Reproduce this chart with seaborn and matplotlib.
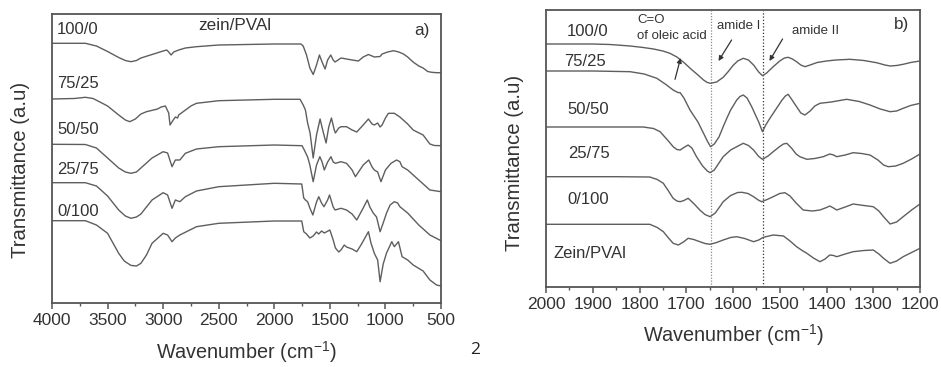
import numpy as np
import pandas as pd
import matplotlib
matplotlib.use("Agg")
import matplotlib.pyplot as plt
from matplotlib.ticker import MultipleLocator
import seaborn as sns

# ---------------- data: panel a) (full range) ----------------
a_labels = ["100/0", "75/25", "50/50", "25/75", "0/100"]

a_wn_100_0 = [4000, 3700, 3600, 3500, 3400, 3340, 3290, 3240, 3200, 3100, 3000, 2968, 2950, 2929, 2905, 2860,
              2800, 2700, 2500, 2000, 1760, 1740, 1710, 1680, 1650, 1620, 1594, 1570, 1543, 1520, 1492, 1470,
              1453, 1400, 1350, 1300, 1243, 1200, 1153, 1120, 1100, 1048, 1030, 980, 928, 880, 838, 800, 751,
              700, 661, 620, 584, 540, 500]
a_t_100_0 = [259.7, 259.7, 257, 251.5, 245.5, 242.5, 241.3, 242.5, 245, 248.5, 252, 253, 251, 248, 251, 253,
             255, 256.3, 258, 259, 259, 257, 248, 235, 228.5, 238, 248, 241, 234, 243, 248, 243,
             241, 245, 244, 243, 242, 246, 248.5, 247, 246, 246.5, 249, 251, 252.3, 251, 249, 246, 241,
             237, 235, 231.5, 230.7, 230.3, 230.3]

a_wn_75_25 = [4000, 3800, 3700, 3630, 3500, 3400, 3340, 3300, 3250, 3200, 3150, 3050, 3018, 2980, 2950, 2938,
              2915, 2890, 2870, 2860, 2820, 2750, 2700, 2500, 2000, 1768, 1740, 1720, 1700, 1678, 1650, 1620,
              1588, 1560, 1534, 1510, 1486, 1460, 1450, 1420, 1400, 1350, 1300, 1258, 1200, 1153, 1120, 1100,
              1070, 1048, 1030, 1000, 973, 920, 870, 800, 750, 661, 600, 560, 500]
a_t_75_25 = [204, 204.5, 205.7, 204.5, 197, 188, 183, 181.3, 184, 189, 191.3, 194, 196, 197, 190, 178,
             182, 186, 185, 188, 191.3, 197, 199.7, 202.3, 203.7, 203.7, 198, 193, 180, 170, 145, 168,
             184, 171, 160, 176, 185, 173, 170, 175, 176.3, 176.3, 173, 171, 178, 184, 179, 178,
             180, 176, 178, 185, 189.7, 189.7, 186, 179, 173, 168, 159, 157.5, 157.3]

a_wn_50_50 = [4000, 3700, 3600, 3500, 3400, 3340, 3290, 3240, 3200, 3100, 3000, 2960, 2920, 2890, 2850, 2800,
              2700, 2500, 2000, 1750, 1730, 1700, 1680, 1650, 1620, 1590, 1570, 1550, 1520, 1490, 1470, 1450,
              1400, 1350, 1300, 1270, 1200, 1150, 1120, 1100, 1070, 1040, 1000, 950, 900, 870, 850, 800, 700,
              600, 500]
a_t_50_50 = [158.7, 158.5, 155, 145, 135, 131, 129.7, 131, 135, 145, 151.3, 150, 136.3, 143, 143, 149.7,
             154, 156.3, 158, 157.3, 153, 146, 138, 121.3, 138, 146.3, 141, 133, 141, 146.3, 141, 139.7,
             141.3, 139.7, 133, 126.3, 138, 143, 136, 133, 131, 121.3, 133, 139.7, 143, 141.3, 136.3, 133, 123,
             113, 111.3]

a_wn_25_75 = [4000, 3700, 3600, 3500, 3400, 3340, 3290, 3240, 3200, 3100, 3000, 2960, 2920, 2890, 2850, 2800,
              2700, 2500, 2000, 1753, 1735, 1720, 1700, 1680, 1653, 1620, 1600, 1575, 1553, 1520, 1503, 1470,
              1453, 1400, 1350, 1300, 1258, 1200, 1163, 1140, 1110, 1080, 1048, 1020, 990, 958, 920, 890, 870,
              800, 700, 600, 500]
a_t_25_75 = [120.3, 120.3, 117, 107, 93, 87, 84.7, 86, 89, 103, 110.3, 108, 94.7, 103, 101.3, 106.3,
             112, 116.3, 119.7, 119, 105, 103, 101.3, 95, 88, 101, 106.3, 100, 96.3, 103, 108, 96,
             93, 94.7, 93, 89, 83, 95, 103, 96, 90, 86, 71.3, 80, 90, 98, 101.3, 100, 96.3,
             90, 78, 68, 62.3]

a_wn_0_100 = [4000, 3700, 3600, 3500, 3400, 3350, 3290, 3240, 3200, 3150, 3100, 3000, 2960, 2920, 2890, 2850,
              2700, 2500, 2000, 1753, 1735, 1710, 1680, 1650, 1620, 1600, 1575, 1550, 1500, 1470, 1450, 1420,
              1400, 1370, 1350, 1300, 1258, 1220, 1153, 1130, 1100, 1070, 1048, 1020, 990, 943, 920, 883, 850,
              800, 750, 661, 600, 540, 500]
a_t_0_100 = [82.3, 82.3, 78, 69.7, 49.7, 42, 37.6, 37, 39.7, 48, 59.7, 69.7, 68, 61.3, 65, 68,
             76.3, 79.7, 82, 82, 71.3, 69, 65, 67, 71, 69, 72, 70, 73, 63, 55, 51,
             53, 58, 56, 54, 51.3, 58, 71.3, 60, 49.7, 43, 21.3, 39, 50, 61.3, 56.3, 61.3, 46.3,
             43, 38, 32, 23, 18, 17]

# ---------------- data: panel b) (2000-1200) ----------------
b_labels = ["100/0", "75/25", "50/50", "25/75", "0/100", "Zein/PVAl"]

b_wn_100_0 = [2000, 1900, 1863, 1820, 1792, 1770, 1750, 1735, 1720, 1705, 1690, 1675, 1663, 1655, 1648, 1635,
              1621, 1610, 1600, 1590, 1578, 1567, 1556, 1545, 1537, 1528, 1514, 1500, 1490, 1482, 1473, 1464,
              1455, 1446, 1435, 1420, 1400, 1380, 1350, 1320, 1293, 1275, 1264, 1250, 1236, 1220, 1200]
b_t_100_0 = [243, 243, 242.5, 241, 239.5, 238, 236, 233.7, 230, 224.5, 218, 212, 207, 204.5, 203.7, 205,
             209.7, 215.5, 221.5, 226, 228.7, 227, 222, 215, 211.3, 214, 220.3, 226, 229, 229.7, 228, 225.3,
             222, 220.3, 222, 224.5, 226, 227, 227.7, 226.5, 224.3, 222, 221, 221.5, 222.7, 224.5, 226]

b_wn_75_25 = [2000, 1900, 1820, 1790, 1763, 1745, 1728, 1718, 1713, 1705, 1692, 1675, 1663, 1655, 1648, 1640,
              1630, 1621, 1612, 1605, 1592, 1585, 1578, 1570, 1560, 1550, 1545, 1537, 1530, 1522, 1514, 1505,
              1495, 1488, 1482, 1475, 1464, 1455, 1446, 1435, 1425, 1414, 1390, 1357, 1330, 1307, 1285, 1264,
              1250, 1236, 1220, 1200]
b_t_75_25 = [216, 216, 215.3, 213, 208.7, 203, 197, 194.5, 194.3, 189, 177, 165, 153.7, 146, 140.3, 143,
             150, 160.3, 170, 177, 187, 190.5, 192, 189, 180.3, 170, 165, 155.3, 162, 168, 173.7, 180,
             187, 191, 192.7, 188, 180.3, 174, 172, 176, 181, 183.7, 185, 187.7, 185.5, 182, 178, 175.3,
             176, 178.7, 181.5, 183.7]

b_wn_50_50 = [2000, 1850, 1792, 1770, 1756, 1740, 1728, 1720, 1713, 1705, 1696, 1688, 1678, 1665, 1655, 1649,
              1640, 1630, 1621, 1605, 1592, 1578, 1567, 1556, 1545, 1537, 1525, 1514, 1500, 1492, 1485, 1475,
              1465, 1457, 1442, 1425, 1407, 1393, 1385, 1378, 1360, 1343, 1325, 1307, 1290, 1278, 1268, 1252,
              1236, 1218, 1200]
b_t_50_50 = [160, 160, 160, 158.5, 155.3, 147, 140.3, 137.5, 137, 139.5, 142, 139, 130.3, 121, 116, 114.3,
             117, 124, 130.3, 137, 140.3, 143.7, 141.5, 137, 130.5, 127.7, 131, 135.3, 140.5, 143, 143.7, 139,
             133, 130.3, 127.7, 128.5, 130.3, 133, 132, 130.3, 132, 134.3, 133.5, 132, 127, 122, 120.3, 121,
             123.7, 128, 133]

b_wn_25_75 = [2000, 1850, 1778, 1762, 1749, 1738, 1728, 1720, 1713, 1705, 1696, 1684, 1671, 1660, 1649, 1638,
              1628, 1621, 1605, 1590, 1581, 1568, 1556, 1546, 1539, 1527, 1514, 1500, 1489, 1478, 1465, 1450,
              1430, 1414, 1400, 1393, 1385, 1378, 1360, 1343, 1320, 1300, 1288, 1278, 1264, 1250, 1236, 1218,
              1200]
b_t_25_75 = [110.3, 110.3, 110, 107.5, 103.7, 96, 88.7, 86, 85.3, 86.5, 88.7, 83.5, 77, 72.5, 70.3, 74,
             80.5, 85.3, 91.5, 94.5, 94.7, 93.5, 90.3, 87, 85.3, 87.5, 90.3, 93.5, 94.3, 91, 84, 77,
             76, 77, 79.5, 81, 79, 77, 80, 83, 81.5, 80.3, 76, 70.3, 63, 65, 70.3, 77,
             83]

b_wn_0_100 = [2000, 1850, 1778, 1762, 1749, 1738, 1728, 1717, 1706, 1696, 1684, 1671, 1660, 1649, 1635, 1621,
              1605, 1592, 1575, 1556, 1545, 1535, 1514, 1492, 1478, 1464, 1452, 1442, 1428, 1414, 1403, 1393,
              1385, 1378, 1360, 1343, 1320, 1300, 1288, 1278, 1264, 1250, 1236, 1218, 1200]
b_t_0_100 = [62.7, 62.7, 62.7, 59.5, 55.3, 49, 43.7, 42, 45, 48.7, 47.5, 45.3, 43.5, 42.7, 44.5, 47,
             49.5, 50.3, 48.5, 45.3, 47, 49.7, 52, 51, 46, 40.3, 36.5, 33.7, 29, 25.3, 28, 32,
             31.5, 30.3, 33, 35.3, 36.5, 37, 33, 28.7, 23.7, 26, 30.3, 34.5, 38.7]

# band markers (cm-1)
amide_lines = [1648, 1535]

# ---------------- style ----------------
sns.set_style("ticks")
plt.rcParams["font.family"] = ["Liberation Sans", "DejaVu Sans"]
plt.rcParams["mathtext.fontset"] = "custom"
plt.rcParams["mathtext.rm"] = "Liberation Sans"
plt.rcParams["mathtext.it"] = "Liberation Sans:italic"
plt.rcParams["mathtext.bf"] = "Liberation Sans:bold"

LINE = "#5e5e5e"
TXT = "#333333"
SPINE = "#555555"

W, H = 941, 367
fig = plt.figure(figsize=(W / 100, H / 100), dpi=100)
fig.patch.set_facecolor("white")

def rect(l, t, r, b):
    return [l / W, 1 - b / H, (r - l) / W, (b - t) / H]

axA = fig.add_axes(rect(52, 14, 441, 303))
axB = fig.add_axes(rect(546, 10, 920, 287))

def build(wns, ts, labels):
    frames = []
    for w, t, lab in zip(wns, ts, labels):
        frames.append(pd.DataFrame({"wn": w, "T": t, "sample": lab}))
    return pd.concat(frames, ignore_index=True)

dfA = build([a_wn_100_0, a_wn_75_25, a_wn_50_50, a_wn_25_75, a_wn_0_100],
            [a_t_100_0, a_t_75_25, a_t_50_50, a_t_25_75, a_t_0_100], a_labels)
dfB = build([b_wn_100_0, b_wn_75_25, b_wn_50_50, b_wn_25_75, b_wn_0_100],
            [b_t_100_0, b_t_75_25, b_t_50_50, b_t_25_75, b_t_0_100], b_labels)

for ax, df in ((axA, dfA), (axB, dfB)):
    sns.lineplot(data=df, x="wn", y="T", units="sample", estimator=None, sort=False,
                 color=LINE, lw=1.0, ax=ax, legend=False)

axA.set_xlim(4000, 500)
axA.set_ylim(0, 289)
axB.set_xlim(2000, 1200)
axB.set_ylim(0, 277)

axA.xaxis.set_major_locator(MultipleLocator(500))
axA.xaxis.set_minor_locator(MultipleLocator(250))
axB.xaxis.set_major_locator(MultipleLocator(100))
axB.xaxis.set_minor_locator(MultipleLocator(50))

for ax in (axA, axB):
    ax.set_yticks([])
    for s in ax.spines.values():
        s.set_visible(True)
        s.set_color(SPINE)
        s.set_linewidth(1.3)
    ax.tick_params(axis="x", which="major", direction="out", length=4, width=1.1,
                   color=SPINE, labelsize=12.5, labelcolor=TXT, pad=3)
    ax.tick_params(axis="x", which="minor", direction="out", length=2.5, width=1.0, color=SPINE)
    ax.set_xlabel("Wavenumber (cm$^{-1}$)", fontsize=14.3, color=TXT)
    ax.set_ylabel("Transmittance (a.u)", fontsize=14.7, color=TXT)
    ax.xaxis.label.set_va("center")
    ax.yaxis.label.set_va("center")

axA.xaxis.set_label_coords(0.5, -(352 - 303) / 289)
axA.yaxis.set_label_coords((20 - 52) / 389, (303 - 170) / 289)
axB.xaxis.set_label_coords(0.5, -(335 - 287) / 277)
axB.yaxis.set_label_coords((515 - 546) / 374, (287 - 163) / 277)

# panel a text
a_lab_y = [273, 220, 173, 133, 92]
for lab, y in zip(a_labels, a_lab_y):
    axA.text(3955, y, lab, fontsize=12, color=TXT, ha="left", va="center")
axA.text(2353, 278, "zein/PVAl", fontsize=12.3, color=TXT, ha="center", va="center")
axA.text(598, 273, "a)", fontsize=12.3, color=TXT, ha="right", va="center")

# panel b
axB.axvline(amide_lines[0], ls=(0, (1.0, 1.3)), color="#8a8a8a", lw=0.9, zorder=1)
axB.axvline(amide_lines[1], ls=(0, (1.0, 1.6)), color="#333333", lw=0.9, zorder=1)

b_lab_x = [1955, 1961, 1955, 1953, 1955, 1985]
b_lab_y = [255, 226, 177, 133, 88, 34]
for lab, x, y in zip(b_labels, b_lab_x, b_lab_y):
    axB.text(x, y, lab, fontsize=12, color=TXT, ha="left", va="center")
axB.text(1224, 262, "b)", fontsize=12.3, color=TXT, ha="right", va="center")

axB.text(1805, 267, "C=O", fontsize=9.5, color=TXT, ha="left", va="center")
axB.text(1805, 251, "of oleic acid", fontsize=9.5, color=TXT, ha="left", va="center")
axB.text(1634, 261, "amide I", fontsize=9.5, color=TXT, ha="left", va="center")
axB.text(1474, 256, "amide II", fontsize=9.5, color=TXT, ha="left", va="center")

arrow = dict(arrowstyle="-|>", color="#333333", lw=0.9, mutation_scale=7, shrinkA=0, shrinkB=0)
axB.annotate("", xy=(1712, 229), xytext=(1724, 207.7), arrowprops=arrow)
axB.annotate("", xy=(1631, 226), xytext=(1603, 247), arrowprops=arrow)
axB.annotate("", xy=(1522, 226), xytext=(1494, 248), arrowprops=arrow)

fig.text(475 / W, 1 - 350 / H, "2", fontsize=12.5, color="#222222", ha="center", va="center",
         family=["Open Sans", "DejaVu Sans"])

fig.savefig("out.png", dpi=100, facecolor="white")
